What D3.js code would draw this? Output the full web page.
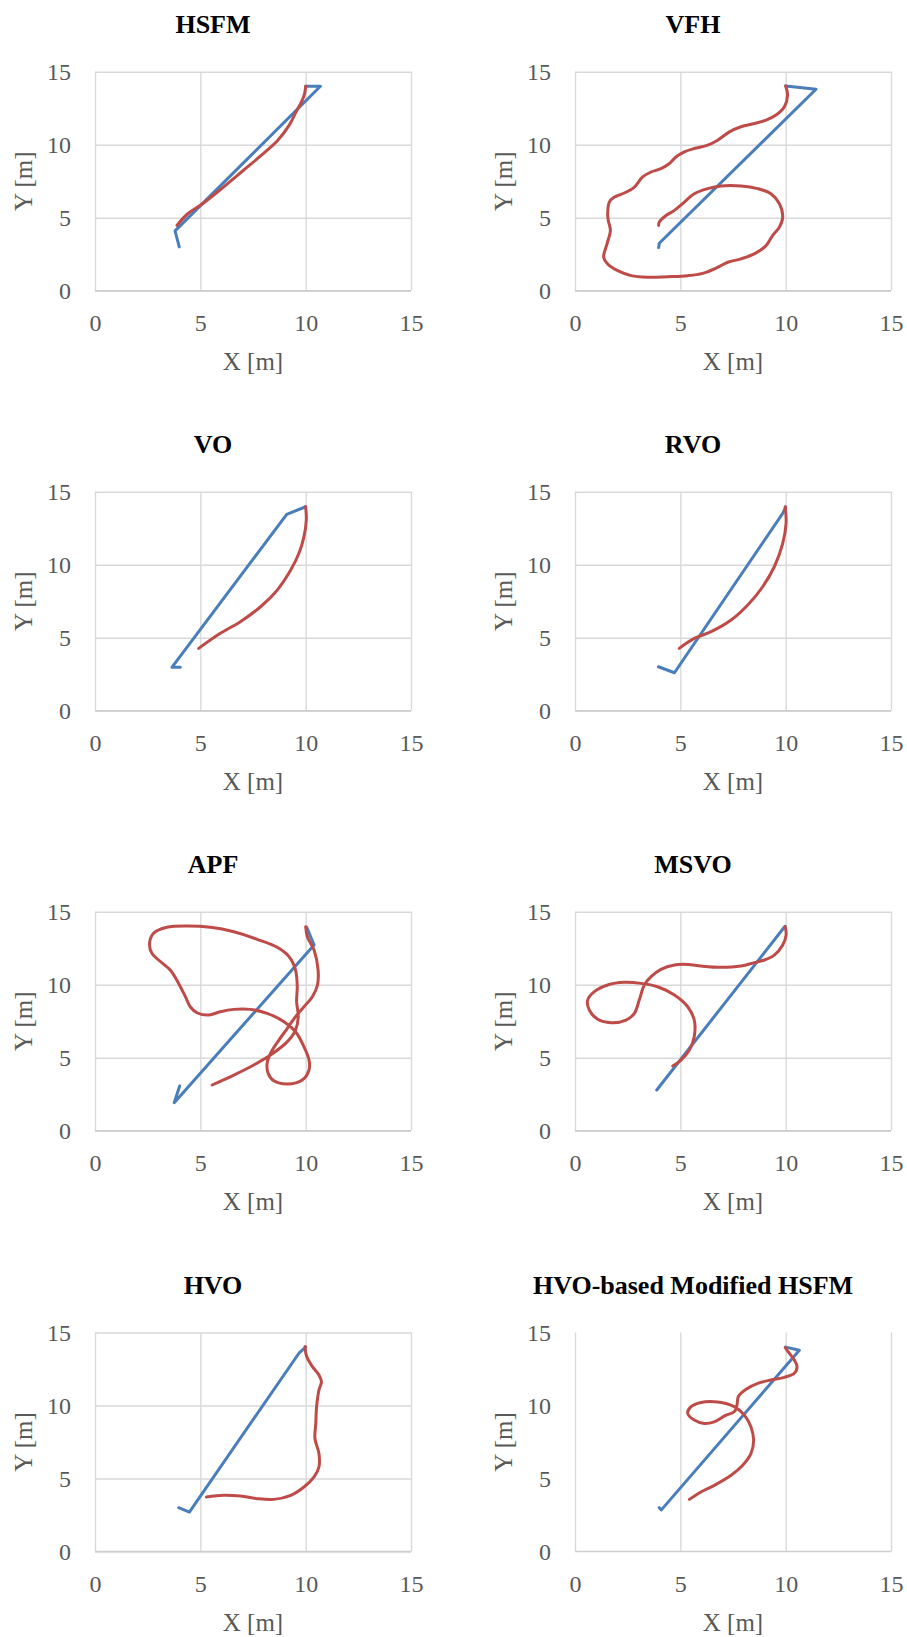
<!DOCTYPE html>
<html>
<head>
<meta charset="utf-8">
<script src="https://cdn.jsdelivr.net/npm/d3@7"></script>
<style>
  body { margin: 0; background: #fff; }
  text { font-family: "Liberation Serif", "Times New Roman", serif; }
</style>
</head>
<body>
<div id="chart"></div>
<script>
// titles of the eight panels
const titles = ["HSFM", "VFH", "VO", "RVO", "APF", "MSVO", "HVO", "HVO-based Modified HSFM"];
const xTicks = [0, 5, 10, 15];
const yTicks = [0, 5, 10, 15];

// trajectories, [x, y] in metres (blue = robot, red = human)
const hsfmBlue = [[4.0, 3.0], [3.8, 4.1], [10.7, 14.0], [10.0, 14.0]];
const hsfmRed = [[10.0, 14.0], [9.95, 13.5], [9.84, 13.06], [9.55, 12.26], [9.22, 11.34], [8.68, 10.31],
  [7.9, 9.28], [7.05, 8.25], [6.1, 7.1], [5.1, 5.95], [4.4, 5.27], [3.89, 4.47]];

const vfhBlue = [[3.97, 2.95], [4.0, 3.25], [11.44, 13.8], [10.0, 14.02]];
const vfhRed = [[10.0, 14.02], [10.09, 13.4], [9.94, 12.6], [9.54, 12.03], [9.07, 11.68], [8.51, 11.45],
  [7.88, 11.23], [7.33, 10.88], [6.77, 10.31], [6.3, 9.97], [5.66, 9.74], [5.19, 9.51], [4.79, 9.16],
  [4.48, 8.71], [4.08, 8.36], [3.61, 8.13], [3.21, 7.79], [2.82, 7.1], [2.34, 6.69], [1.87, 6.41],
  [1.63, 6.07], [1.55, 5.27], [1.58, 4.81], [1.68, 4.12], [1.52, 3.21], [1.36, 2.29], [1.55, 1.83],
  [2.03, 1.37], [2.66, 1.03], [3.45, 0.92], [4.4, 0.96], [5.35, 1.03], [6.06, 1.19], [6.77, 1.6],
  [7.25, 1.95], [7.88, 2.18], [8.51, 2.52], [9.07, 3.09], [9.38, 3.78], [9.7, 4.35], [9.86, 5.04],
  [9.7, 5.96], [9.3, 6.64], [8.67, 6.99], [7.88, 7.17], [6.93, 7.17], [6.3, 6.99], [5.66, 6.64],
  [5.19, 6.07], [4.72, 5.5], [4.32, 5.15], [4.0, 4.7], [3.97, 4.47]];

const voBlue = [[4.05, 2.97], [3.65, 2.97], [9.1, 13.45], [10.0, 13.97]];
const voRed = [[10.0, 13.97], [10.03, 13.06], [9.92, 11.92], [9.68, 10.78], [9.29, 9.63], [8.65, 8.26],
  [7.86, 7.12], [6.9, 6.1], [5.95, 5.3], [4.92, 4.27]];

const rvoBlue = [[3.96, 3.01], [4.72, 2.6], [9.86, 13.52], [10.0, 13.95]];
const rvoRed = [[9.98, 13.97], [10.02, 12.83], [9.86, 11.46], [9.46, 9.86], [8.91, 8.49], [8.2, 7.24],
  [7.41, 6.21], [6.46, 5.41], [5.66, 4.95], [4.95, 4.27]];

const apfBlue = [[10.05, 13.93], [10.4, 12.72], [3.76, 1.92], [4.02, 3.06]];
const apfRed = [[10.0, 13.97], [10.08, 13.29], [10.4, 12.37], [10.59, 11.0], [10.56, 9.98], [10.32, 9.18],
  [9.92, 8.49], [9.52, 7.81], [9.13, 7.01], [8.73, 6.21], [8.37, 5.41], [8.17, 4.61], [8.22, 3.93],
  [8.49, 3.42], [9.13, 3.2], [9.84, 3.47], [10.16, 4.16], [10.16, 4.84], [9.92, 5.75], [9.52, 6.78],
  [8.97, 7.47], [8.17, 8.04], [7.38, 8.31], [6.59, 8.31], [5.95, 8.15], [5.4, 7.92], [4.84, 8.08],
  [4.52, 8.49], [4.29, 9.18], [3.97, 10.09], [3.57, 11.0], [3.02, 11.69], [2.7, 12.15], [2.59, 12.83],
  [2.78, 13.52], [3.41, 13.93], [4.37, 14.02], [5.48, 13.93], [6.59, 13.63], [7.7, 13.11], [8.65, 12.56],
  [9.21, 11.92], [9.52, 11.0], [9.6, 9.86], [9.57, 8.84], [9.65, 7.81], [9.52, 6.89], [9.13, 6.1],
  [8.33, 5.18], [7.54, 4.5], [6.59, 3.81], [5.56, 3.13]];

const msvoBlue = [[3.88, 2.79], [9.97, 14.0]];
const msvoRed = [[9.98, 13.97], [10.02, 13.4], [9.86, 12.72], [9.46, 12.03], [8.99, 11.69], [8.51, 11.51],
  [7.88, 11.28], [6.93, 11.19], [5.98, 11.28], [5.35, 11.39], [4.72, 11.35], [4.08, 11.05], [3.61, 10.55],
  [3.29, 9.98], [3.05, 8.95], [2.82, 8.04], [2.42, 7.58], [1.71, 7.4], [1.08, 7.63], [0.68, 8.26],
  [0.6, 8.95], [0.92, 9.52], [1.55, 9.98], [2.34, 10.16], [3.13, 10.09], [3.92, 9.86], [4.72, 9.29],
  [5.35, 8.49], [5.66, 7.58], [5.66, 6.44], [5.43, 5.53], [5.03, 4.84], [4.64, 4.43]];

const hvoBlue = [[3.97, 3.0], [4.48, 2.7], [9.68, 13.58], [10.0, 14.0]];
const hvoRed = [[9.97, 14.04], [10.05, 13.35], [10.32, 12.66], [10.63, 12.09], [10.75, 11.63], [10.63, 11.06],
  [10.52, 9.92], [10.48, 8.77], [10.44, 7.74], [10.63, 6.71], [10.63, 5.79], [10.4, 5.11], [9.92, 4.42],
  [9.29, 3.85], [8.49, 3.57], [7.7, 3.62], [6.9, 3.8], [6.11, 3.85], [5.29, 3.73]];

const mhsfmBlue = [[4.0, 3.0], [4.1, 2.85], [10.65, 13.78], [10.0, 14.0]];
const mhsfmRed = [[9.98, 13.97], [10.17, 13.58], [10.41, 13.12], [10.54, 12.66], [10.41, 12.21], [9.94, 11.93],
  [9.3, 11.75], [8.67, 11.52], [8.12, 11.11], [7.75, 10.6], [7.69, 10.03], [7.56, 9.57], [7.17, 9.34],
  [6.61, 8.88], [6.14, 8.77], [5.66, 9.0], [5.35, 9.46], [5.51, 9.92], [5.98, 10.21], [6.77, 10.24],
  [7.56, 9.92], [8.04, 9.34], [8.35, 8.54], [8.48, 7.63], [8.35, 6.71], [7.96, 5.91], [7.41, 5.22],
  [6.61, 4.53], [5.98, 4.08], [5.43, 3.57]];

const blueSeries = [hsfmBlue, vfhBlue, voBlue, rvoBlue, apfBlue, msvoBlue, hvoBlue, mhsfmBlue];
const redSeries = [hsfmRed, vfhRed, voRed, rvoRed, apfRed, msvoRed, hvoRed, mhsfmRed];

// layout
const W = 907, H = 1637;
const colLeft = [95, 575];
const rowTop = [71.7, 491.7, 911.7, 1332.5];
const plotW = 316, plotH = 219;
const blue = "#4a7ebb", red = "#be4b48";
const serif = '"Liberation Serif", "Times New Roman", serif';

const svg = d3.select("#chart").append("svg")
  .attr("width", W)
  .attr("height", H);

titles.forEach((title, i) => {
  const col = i % 2, row = Math.floor(i / 2);
  const g = svg.append("g")
    .attr("transform", `translate(${colLeft[col]},${rowTop[row]})`);

  const x = d3.scaleLinear().domain([0, 15]).range([0, plotW]);
  const y = d3.scaleLinear().domain([0, 15]).range([plotH, 0]);

  // vertical grid + x labels
  const xAxis = g.append("g")
    .attr("transform", `translate(0,${plotH})`)
    .call(d3.axisBottom(x).tickValues(xTicks).tickSize(-plotH).tickPadding(23))
    .attr("font-family", serif)
    .attr("font-size", 24);
  xAxis.select(".domain").remove();
  xAxis.selectAll("line").attr("stroke", "#d9d9d9").attr("stroke-width", 1.4);

  // horizontal grid + y labels (last panel has no horizontal grid)
  const yAxis = g.append("g")
    .call(d3.axisLeft(y).tickValues(yTicks).tickSize(i === 7 ? 0 : -plotW).tickPadding(24))
    .attr("font-family", serif)
    .attr("font-size", 24);
  yAxis.select(".domain").remove();
  yAxis.selectAll("line").attr("stroke", "#d9d9d9").attr("stroke-width", 1.4);

  g.selectAll(".tick text").attr("fill", "#595959");

  // bottom axis line
  g.append("line")
    .attr("x1", 0).attr("x2", plotW)
    .attr("y1", plotH).attr("y2", plotH)
    .attr("stroke", "#cfcfcf")
    .attr("stroke-width", 1.6);

  const line = d3.line().x(d => x(d[0])).y(d => y(d[1]));

  g.append("path")
    .datum(blueSeries[i])
    .attr("d", line.curve(d3.curveLinear))
    .attr("fill", "none")
    .attr("stroke", blue)
    .attr("stroke-width", 3)
    .attr("stroke-linejoin", "round")
    .attr("stroke-linecap", "round");

  g.append("path")
    .datum(redSeries[i])
    .attr("d", line.curve(d3.curveCatmullRom))
    .attr("fill", "none")
    .attr("stroke", red)
    .attr("stroke-width", 3)
    .attr("stroke-linejoin", "round")
    .attr("stroke-linecap", "round");

  // chart title
  g.append("text")
    .attr("x", plotW / 2 - 40)
    .attr("y", -38.5)
    .attr("text-anchor", "middle")
    .style("font-size", "26px")
    .style("font-weight", "bold")
    .attr("fill", "#000")
    .text(title);

  // axis titles
  g.append("text")
    .attr("x", plotW / 2)
    .attr("y", plotH + 79)
    .attr("text-anchor", "middle")
    .style("font-size", "25px")
    .attr("fill", "#595959")
    .text("X [m]");

  g.append("text")
    .attr("transform", `translate(-63.5,${plotH / 2}) rotate(-90)`)
    .attr("text-anchor", "middle")
    .style("font-size", "25px")
    .attr("fill", "#595959")
    .text("Y [m]");
});
</script>
</body>
</html>
